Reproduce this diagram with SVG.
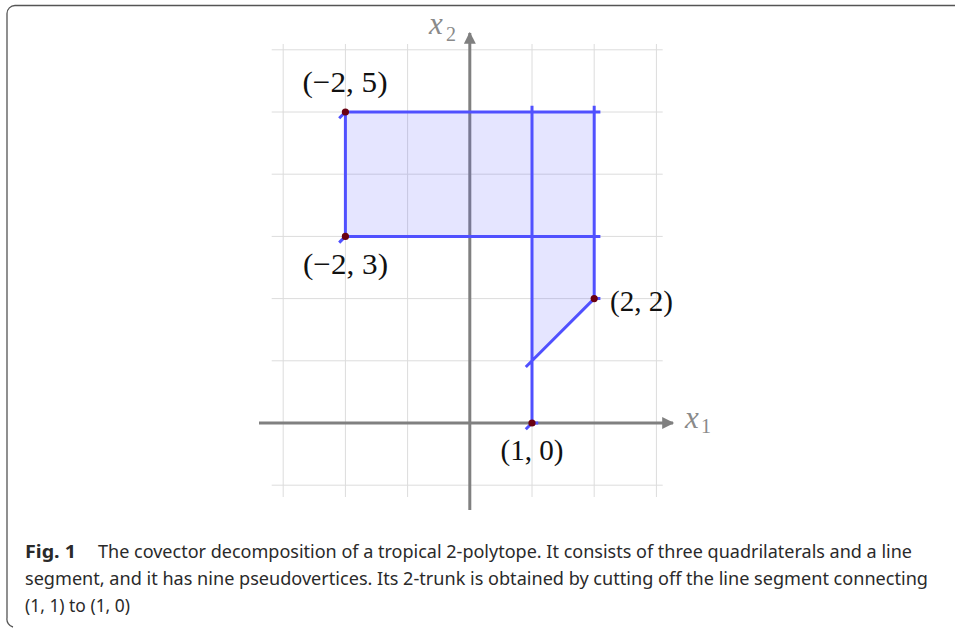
<svg xmlns="http://www.w3.org/2000/svg" width="955" height="628" viewBox="0 0 955 628">
<style>
.grid{stroke:#dcdcdc;stroke-width:1;fill:none}
.axis{stroke:#808080;stroke-width:3;fill:none}
.edge{stroke:#5050ff;stroke-width:3;fill:none;stroke-linecap:butt}
.pt{fill:#6a0012}
.lab{font-family:"Liberation Serif","DejaVu Serif",serif;font-size:30px;fill:#111}
.axl{font-family:"Liberation Serif","DejaVu Serif",serif;fill:#8a8a8a}
.cap{font-family:"Noto Sans","Open Sans",sans-serif;font-size:18px;fill:#2a2a2a}
</style>
<defs>
<marker id="arr" viewBox="0 0 10 10" refX="9" refY="5" markerWidth="4.2" markerHeight="4" orient="auto" markerUnits="strokeWidth">
<path d="M0,0 L10,5 L0,10 Z" fill="#808080"/>
</marker>
</defs>
<rect width="955" height="628" fill="#fff"/>
<path d="M955,5.5 H15 A8,8 0 0 0 7,13.5 V618 A8,8 0 0 0 13,627" stroke="#555" stroke-width="1.3" fill="none"/>
<g id="grid" class="grid">
<path d="M283.2,44V497 M345.4,44V497 M407.6,44V497 M532,44V497 M594.2,44V497 M656.4,44V497"/>
<path d="M271.7,49.8H662.7 M271.7,112H662.7 M271.7,174.2H662.7 M271.7,236.4H662.7 M271.7,298.6H662.7 M271.7,360.8H662.7 M271.7,485.2H662.7"/>
</g>
<g id="axes">
<line class="axis" x1="259" y1="423" x2="673" y2="423" marker-end="url(#arr)"/>
<line class="axis" x1="469.8" y1="510" x2="469.8" y2="33" marker-end="url(#arr)"/>
<text class="axl" x="429" y="34" font-size="31" font-style="italic">x</text><text class="axl" x="446" y="41" font-size="20">2</text>
<text class="axl" x="685" y="428" font-size="31" font-style="italic">x</text><text class="axl" x="701" y="433" font-size="20">1</text>
</g>
<g id="region">
<polygon points="345.4,112 594.2,112 594.2,298.6 532,360.8 532,236.4 345.4,236.4" fill="#5050ff" fill-opacity="0.15"/>
</g>
<g id="connectors">
<path class="edge" d="M345.4,112H600.4 M345.4,236.4H600.4 M345.4,112V236.4 M532,423V105.8 M594.2,298.6V105.8 M594.2,298.6L525.8,367"/>
<path class="edge" d="M345.4,112L339.2,118.2 M345.4,236.4L339.2,242.6 M532,423L525.8,429.2 M594.2,298.6H600.4 M532,423H538.2"/>
</g>
<g id="p1"><circle class="pt" cx="345.4" cy="112" r="3.6"/><text class="lab" x="345" y="92" text-anchor="middle" textLength="85" lengthAdjust="spacingAndGlyphs">(−2, 5)</text></g>
<g id="p2"><circle class="pt" cx="345.4" cy="236.4" r="3.6"/><text class="lab" x="345.5" y="274" text-anchor="middle" textLength="85" lengthAdjust="spacingAndGlyphs">(−2, 3)</text></g>
<g id="p3"><circle class="pt" cx="594.2" cy="298.6" r="3.6"/><text class="lab" x="610" y="311" textLength="63" lengthAdjust="spacingAndGlyphs">(2, 2)</text></g>
<g id="p4"><circle class="pt" cx="532" cy="423" r="3.6"/><text class="lab" x="532" y="460" text-anchor="middle" textLength="63" lengthAdjust="spacingAndGlyphs">(1, 0)</text></g>
<g id="caption">
<text class="cap" x="25" y="558" font-weight="bold" textLength="51" lengthAdjust="spacingAndGlyphs">Fig. 1</text>
<text class="cap" x="98" y="558" textLength="814" lengthAdjust="spacingAndGlyphs">The covector decomposition of a tropical 2-polytope. It consists of three quadrilaterals and a line</text>
<text class="cap" x="25" y="585" textLength="903" lengthAdjust="spacingAndGlyphs">segment, and it has nine pseudovertices. Its 2-trunk is obtained by cutting off the line segment connecting</text>
<text class="cap" x="25" y="612" textLength="105" lengthAdjust="spacingAndGlyphs">(1, 1) to (1, 0)</text>
</g>
</svg>
